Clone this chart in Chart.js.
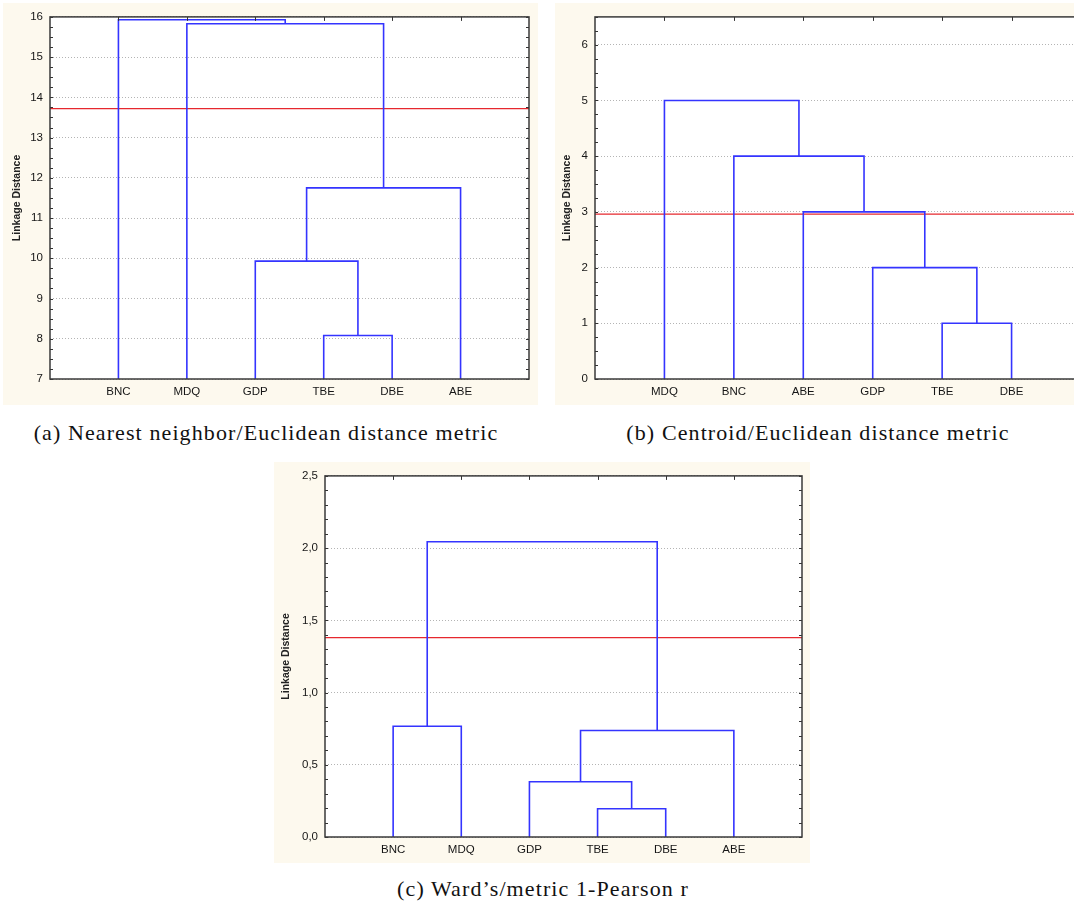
<!DOCTYPE html>
<html>
<head>
<meta charset="utf-8">
<script src="https://cdn.jsdelivr.net/npm/chart.js@4.4.1/dist/chart.umd.min.js"></script>
<style>
  html, body { margin: 0; padding: 0; background: #fff; width: 1074px; height: 904px; overflow: hidden; }
  canvas { position: absolute; }
  .caption {
    position: absolute; height: 24px; line-height: 24px; white-space: nowrap; text-align: center;
    font-family: 'Liberation Serif', 'Times New Roman', serif; font-size: 22px; letter-spacing: 1.1px; color: #111;
  }
</style>
</head>
<body>
<canvas id="chartA" width="535" height="402" style="left:3px;top:3px"></canvas>
<canvas id="chartB" width="535" height="402" style="left:555px;top:3px"></canvas>
<canvas id="chartC" width="536" height="401" style="left:274px;top:462px"></canvas>
<div class="caption" style="left:16px;width:500px;top:421px">(a) Nearest neighbor/Euclidean distance metric</div>
<div class="caption" style="left:568px;width:500px;top:421px">(b) Centroid/Euclidean distance metric</div>
<div class="caption" style="left:293px;width:500px;top:877px">(c) Ward’s/metric 1-Pearson r</div>
<script>
// (a) nearest neighbour
const leavesA = ['BNC', 'MDQ', 'GDP', 'TBE', 'DBE', 'ABE'];
const mergeLeftA = [3, 2, 7, 1, 0];
const mergeRightA = [4, 6, 5, 8, 9];
const mergeHeightA = [8.08, 9.93, 11.75, 15.83, 15.93];
const cutA = 13.72;

// (b) centroid
const leavesB = ['MDQ', 'BNC', 'ABE', 'GDP', 'TBE', 'DBE'];
const mergeLeftB = [4, 3, 2, 1, 0];
const mergeRightB = [5, 6, 7, 8, 9];
const mergeHeightB = [1.0, 2.0, 3.0, 4.0, 5.0];
const cutB = 2.96;

// (c) ward's
const leavesC = ['BNC', 'MDQ', 'GDP', 'TBE', 'DBE', 'ABE'];
const mergeLeftC = [3, 2, 7, 0, 9];
const mergeRightC = [4, 6, 5, 1, 8];
const mergeHeightC = [0.196, 0.383, 0.737, 0.767, 2.044];
const cutC = 1.38;

const CREAM = '#fdf9ee';
const BLUE = '#3434ff';
const RED = '#e6282e';
const TICK_FONT = { family: "'Liberation Sans', Arial, sans-serif", size: 11.5 };

const panelPlugin = {
    id: 'panel',
    beforeDraw(chart) {
        const { ctx, chartArea: a } = chart;
        ctx.save();
        ctx.fillStyle = CREAM;
        ctx.fillRect(0, 0, chart.width, chart.height);
        ctx.fillStyle = '#ffffff';
        ctx.fillRect(a.left, a.top, a.right - a.left, a.bottom - a.top);
        ctx.restore();
    },
    afterDraw(chart, args, opts) {
        const { ctx, chartArea: a, scales } = chart;
        const y = scales.y, x = scales.x;
        ctx.save();
        ctx.strokeStyle = '#333';
        ctx.lineWidth = 1;
        ctx.beginPath();
        // minor ticks on left and right, pointing inside
        const n = Math.round((y.max - y.min) / opts.minor);
        for (let i = 0; i <= n; i++) {
            const py = Math.round(y.getPixelForValue(y.min + i * opts.minor)) + 0.5;
            ctx.moveTo(a.left, py); ctx.lineTo(a.left + 3, py);
            ctx.moveTo(a.right, py); ctx.lineTo(a.right - 3, py);
        }
        // category ticks on the top edge
        for (let i = 1; i <= opts.count; i++) {
            const px = Math.round(x.getPixelForValue(i)) + 0.5;
            ctx.moveTo(px, a.top); ctx.lineTo(px, a.top + 4);
        }
        ctx.stroke();
        ctx.lineWidth = 1.5;
        ctx.strokeStyle = '#3a3a3a';
        ctx.strokeRect(a.left, a.top, a.right - a.left, a.bottom - a.top);
        ctx.restore();
    }
};

function dendrogramSegments(leaves, left, right, heights) {
    const xs = leaves.map((_, i) => i + 1);
    const hs = leaves.map(() => 0);
    const segs = [];
    for (let k = 0; k < heights.length; k++) {
        const l = left[k], r = right[k], h = heights[k];
        segs.push([
            { x: xs[l], y: hs[l] }, { x: xs[l], y: h },
            { x: xs[r], y: h }, { x: xs[r], y: hs[r] }
        ]);
        xs.push((xs[l] + xs[r]) / 2);
        hs.push(h);
    }
    return segs;
}

function renderDendrogram(canvasId, leaves, left, right, heights, cut, axis, box) {
    const ctx = document.getElementById(canvasId).getContext('2d');
    const datasets = dendrogramSegments(leaves, left, right, heights).map(seg => ({
        data: seg,
        borderColor: BLUE,
        borderWidth: 1.6,
        pointRadius: 0,
        tension: 0,
        fill: false
    }));
    datasets.push({
        data: [{ x: 0, y: cut }, { x: leaves.length + 1, y: cut }],
        borderColor: RED,
        borderWidth: 1.3,
        pointRadius: 0,
        fill: false
    });

    return new Chart(ctx, {
        type: 'line',
        data: { datasets: datasets },
        options: {
            responsive: false,
            animation: false,
            events: [],
            layout: { padding: { left: box.left, top: box.top, right: box.right, bottom: 0 } },
            plugins: {
                legend: { display: false },
                tooltip: { enabled: false },
                panel: { minor: axis.minor, count: leaves.length }
            },
            scales: {
                x: {
                    type: 'linear',
                    min: 0,
                    max: leaves.length + 1,
                    afterFit: s => { s.height = 26; },
                    grid: { display: false, drawTicks: false },
                    border: { display: false },
                    ticks: {
                        stepSize: 1,
                        autoSkip: false,
                        maxRotation: 0,
                        padding: 6,
                        color: '#161616',
                        font: TICK_FONT,
                        callback: v => leaves[v - 1] || ''
                    }
                },
                y: {
                    type: 'linear',
                    min: axis.min,
                    max: axis.max,
                    afterFit: s => { s.width = box.yWidth; },
                    grid: { color: '#b4b4b4', lineWidth: 1, drawTicks: false },
                    border: { display: false, dash: [1, 2] },
                    title: {
                        display: true,
                        text: 'Linkage Distance',
                        color: '#222',
                        padding: { top: 4, bottom: 0 },
                        font: { family: "'Liberation Sans', Arial, sans-serif", size: 10.5, weight: 'bold' }
                    },
                    ticks: {
                        stepSize: axis.step,
                        includeBounds: false,
                        padding: 7,
                        color: '#161616',
                        font: TICK_FONT,
                        callback: axis.format
                    }
                }
            }
        },
        plugins: [panelPlugin]
    });
}

renderDendrogram('chartA', leavesA, mergeLeftA, mergeRightA, mergeHeightA, cutA,
    { min: 7, max: 16, step: 1, minor: 0.25, format: v => String(v) },
    { left: 4, top: 12, right: 9, yWidth: 43 });

renderDendrogram('chartB', leavesB, mergeLeftB, mergeRightB, mergeHeightB, cutB,
    { min: 0, max: 6.5, step: 1, minor: 0.25, format: v => Number.isInteger(v) ? String(v) : '' },
    { left: 2, top: 12, right: 9, yWidth: 38 });

renderDendrogram('chartC', leavesC, mergeLeftC, mergeRightC, mergeHeightC, cutC,
    { min: 0, max: 2.5, step: 0.5, minor: 0.1, format: v => v.toFixed(1).replace('.', ',') },
    { left: 2, top: 10, right: 8, yWidth: 49 });
</script>
</body>
</html>
